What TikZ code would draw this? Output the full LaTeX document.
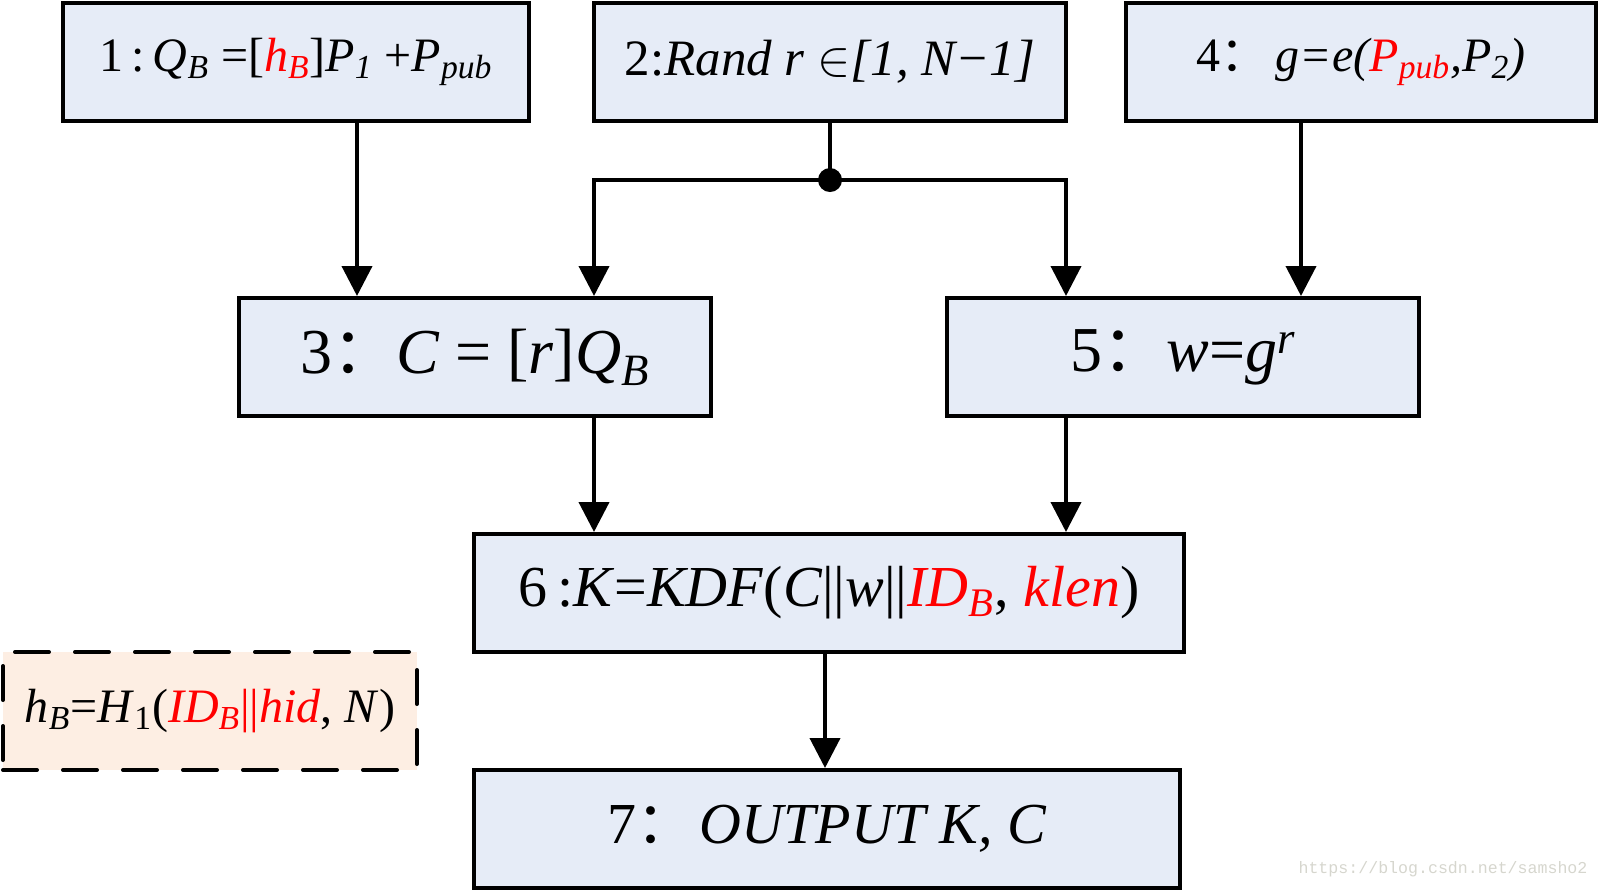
\documentclass[tikz,border=0pt]{standalone}
\usepackage{fontspec}
\setmainfont{Liberation Serif}
\newfontfamily\cjk{Noto Sans CJK SC}
\newfontfamily\wmfont{Liberation Mono}
\usetikzlibrary{arrows.meta}
\definecolor{boxfill}{HTML}{E6ECF7}
\definecolor{notefill}{HTML}{FDEEE3}
\definecolor{wmgray}{HTML}{D6D6CE}
\newcommand\fs[1]{\fontsize{#1}{#1}\selectfont}
\newcommand\isub[1]{\textsubscript{\itshape #1}}
\newcommand\cc{{\cjk ：}}
\begin{document}
\begin{tikzpicture}[x=0.5pt,y=-0.5pt,
  stepbox/.style={draw,line width=2pt,fill=boxfill,minimum height=59pt,inner sep=0pt,anchor=center},
  notebox/.style={draw,line width=2pt,fill=notefill,dash pattern=on 17pt off 13pt,line cap=round,minimum height=59pt,minimum width=207pt,inner sep=0pt},
  conn/.style={line width=2pt},
  arr/.style={line width=2pt,-{Triangle[length=15pt,width=15pt]}}]
\useasboundingbox (0,0) rectangle (1600,891);
% boxes
\node[stepbox,minimum width=233pt] (b1) at (296,62) {\fs{24}1\,:\,\textit{Q}\isub{B} =[\textcolor{red}{\textit{h}\isub{B}}]\textit{P}\isub{1} +\textit{P}\isub{pub}};
\node[stepbox,minimum width=236pt] (b2) at (830,62) {\fs{25.5}2:\textit{Rand r} $\in$\textit{[1, N−1]}};
\node[stepbox,minimum width=235pt] (b4) at (1361,62) {\fs{24}4\cc\hspace{0.15em}\textit{g=e(\textcolor{red}{P\textsubscript{pub}},P\textsubscript{2})}};
\node[stepbox,minimum width=236pt] (b3) at (475,357) {\fs{32}3\cc\textit{C} = [\textit{r}]\textit{Q}\isub{B}};
\node[stepbox,minimum width=236pt] (b5) at (1183,357) {\fs{32}5\cc\textit{w}=\textit{g}\textsuperscript{\itshape r}};
\node[stepbox,minimum width=355pt] (b6) at (829,593) {\fs{29}6\,:\textit{K}=\textit{KDF}(\textit{C}||\textit{w}||\textcolor{red}{\textit{ID}\isub{B}}, \textcolor{red}{\textit{klen}})};
\node[stepbox,minimum width=353pt] (b7) at (827,829) {\fs{29}7\cc\hspace{0.1em}\textit{OUTPUT K, C}};
\node[notebox] (n) at (210,711) {\fs{24}\textit{h}\isub{B}=\textit{H}\textsubscript{1}(\textcolor{red}{\textit{ID}\isub{B}||\textit{hid}}, \textit{N})};
\node[text=wmgray,inner sep=0pt] (wm) at (1443,869) {\wmfont\fontsize{8.3}{10}\selectfont https://blog.csdn.net/samsho2};
% connector coordinates
\coordinate (x1) at (357,0);
\coordinate (xL) at (594,0);
\coordinate (xR) at (1066,0);
\coordinate (x4) at (1301,0);
\coordinate (x6) at (825,0);
\coordinate (j) at (830,180);
% connectors
\draw[arr] (x1 |- b1.south) -- (x1 |- b3.north);
\draw[conn] (b2.south) -- (j);
\draw[arr] (j) -| (xL |- b3.north);
\draw[arr] (j) -| (xR |- b5.north);
\fill (j) circle[radius=6pt];
\draw[arr] (x4 |- b4.south) -- (x4 |- b5.north);
\draw[arr] (xL |- b3.south) -- (xL |- b6.north);
\draw[arr] (xR |- b5.south) -- (xR |- b6.north);
\draw[arr] (x6 |- b6.south) -- (x6 |- b7.north);
\end{tikzpicture}
\end{document}
